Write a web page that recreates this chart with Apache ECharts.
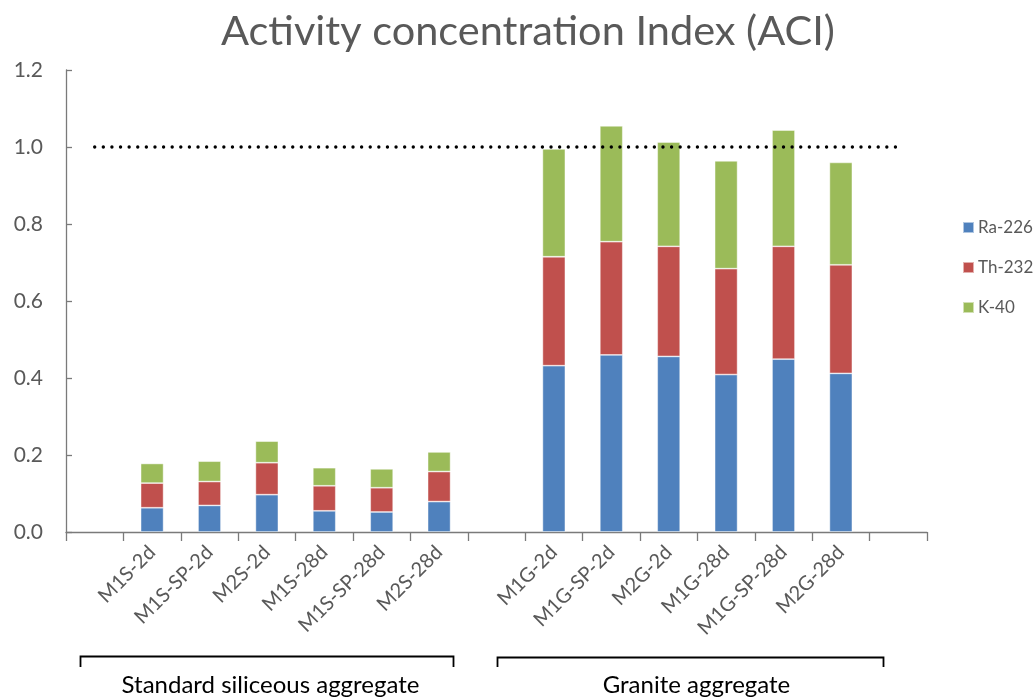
<!DOCTYPE html>
<html>
<head>
<meta charset="utf-8">
<script src="https://cdn.jsdelivr.net/npm/echarts@6/dist/echarts.min.js"></script>
<style>
  html, body { margin: 0; padding: 0; background: #fff; }
  #chart { width: 1035px; height: 697px; }
</style>
</head>
<body>
<div id="chart"></div>
<script>
// Mortar mixes; blank slots keep the gaps around the two aggregate groups
const categories = [
  '', 'M1S-2d', 'M1S-SP-2d', 'M2S-2d', 'M1S-28d', 'M1S-SP-28d', 'M2S-28d',
  '', 'M1G-2d', 'M1G-SP-2d', 'M2G-2d', 'M1G-28d', 'M1G-SP-28d', 'M2G-28d', ''
];

// Contribution of each radionuclide to the activity concentration index
const ra226 = [null, 0.063, 0.069, 0.097, 0.055, 0.052, 0.079, null, 0.432, 0.460, 0.456, 0.409, 0.449, 0.412, null];
const th232 = [null, 0.064, 0.062, 0.083, 0.065, 0.063, 0.078, null, 0.283, 0.294, 0.286, 0.275, 0.293, 0.282, null];
const k40   = [null, 0.051, 0.053, 0.056, 0.047, 0.049, 0.051, null, 0.280, 0.301, 0.271, 0.280, 0.302, 0.266, null];

// Reference limit ACI = 1
const aciLimit = [1, 1, 1, 1, 1, 1, 1, 1, 1, 1, 1, 1, 1, 1, 1];

const yTicks = { min: 0, max: 1.2, interval: 0.2 };

const FONT = 'Lato, "Open Sans", sans-serif';
const GREY = '#595959';

const chart = echarts.init(document.getElementById('chart'), null, { renderer: 'canvas' });

const barStyle = (color) => ({
  color: color,
  borderColor: 'rgba(255,255,255,0.55)',
  borderWidth: 0.8
});

chart.setOption({
  animation: false,
  backgroundColor: '#ffffff',
  textStyle: { fontFamily: FONT },
  title: {
    text: 'Activity concentration Index (ACI)',
    left: 216,
    top: 6,
    textStyle: { fontFamily: FONT, fontSize: 41.5, fontWeight: 'normal', color: GREY }
  },
  legend: {
    data: ['Ra-226', 'Th-232', 'K-40'],
    orient: 'vertical',
    left: 957,
    top: 214,
    itemWidth: 11,
    itemHeight: 11,
    itemGap: 23,
    icon: 'rect',
    textStyle: { fontFamily: FONT, fontSize: 17, color: GREY, padding: [0, 0, 0, -1] }
  },
  grid: { left: 66, right: 108, top: 70, bottom: 165, containLabel: false },
  xAxis: {
    type: 'category',
    data: categories,
    boundaryGap: true,
    axisLine: { show: true, lineStyle: { color: '#7a7a7a', width: 1.3 } },
    axisTick: { show: true, interval: 0, alignWithLabel: false, length: 9, lineStyle: { color: '#7a7a7a', width: 1.3 } },
    axisLabel: { interval: 0, rotate: 45, margin: 17, fontFamily: FONT, fontSize: 20, color: GREY },
    splitLine: { show: false }
  },
  yAxis: {
    type: 'value',
    min: yTicks.min,
    max: yTicks.max,
    interval: yTicks.interval,
    axisLine: { show: true, lineStyle: { color: '#7a7a7a', width: 1.3 } },
    axisTick: { show: true, inside: true, length: 6, lineStyle: { color: '#7a7a7a', width: 1.3 } },
    axisLabel: { margin: 23, fontFamily: FONT, fontSize: 21, color: GREY, formatter: (v) => v.toFixed(1) },
    splitLine: { show: false }
  },
  series: [
    { name: 'Ra-226', type: 'bar', stack: 'aci', barWidth: '40%', data: ra226, itemStyle: barStyle('#4F81BD') },
    { name: 'Th-232', type: 'bar', stack: 'aci', barWidth: '40%', data: th232, itemStyle: barStyle('#C0504D') },
    { name: 'K-40',   type: 'bar', stack: 'aci', barWidth: '40%', data: k40,   itemStyle: barStyle('#9BBB59') },
    {
      name: 'ACI limit',
      type: 'line',
      data: aciLimit,
      symbol: 'none',
      z: 5,
      lineStyle: { color: '#000000', width: 3.4, type: [0.01, 8.6], cap: 'round' }
    }
  ],
  graphic: [
    {
      type: 'polyline',
      shape: { points: [[80.5, 667], [80.5, 656.5], [453.5, 656.5], [453.5, 667]] },
      style: { stroke: '#000', lineWidth: 1.8, fill: null }
    },
    {
      type: 'text',
      x: 270.5, y: 685,
      style: { text: 'Standard siliceous aggregate', fontFamily: FONT, fontSize: 24, fill: '#000', align: 'center', verticalAlign: 'middle' }
    },
    {
      type: 'polyline',
      shape: { points: [[497.5, 667], [497.5, 657.5], [883.5, 657.5], [883.5, 667]] },
      style: { stroke: '#000', lineWidth: 1.8, fill: null }
    },
    {
      type: 'text',
      x: 696.5, y: 685,
      style: { text: 'Granite aggregate', fontFamily: FONT, fontSize: 24, fill: '#000', align: 'center', verticalAlign: 'middle' }
    }
  ]
});
</script>
</body>
</html>
